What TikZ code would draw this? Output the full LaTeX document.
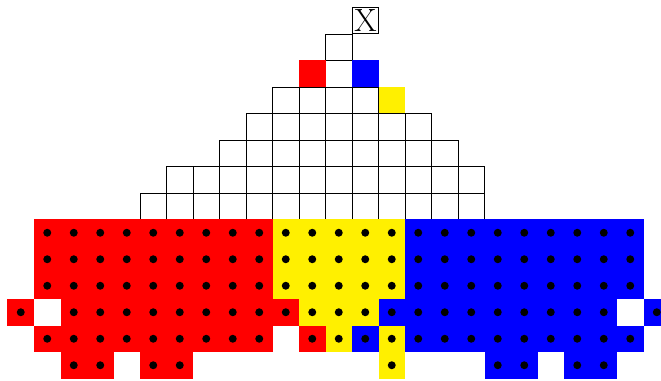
\documentclass[tikz,border=0pt]{standalone}
\usepackage{xcolor}
\usepackage{tikz}
\definecolor{plred}{RGB}{255,0,0}
\definecolor{plyellow}{RGB}{255,240,0}
\definecolor{plblue}{RGB}{0,0,255}

\begin{document}
\begin{tikzpicture}[
    x=0.5cm, y=0.5cm,
    cell/.style={draw=black, line width=0.5pt},
    peg/.style={fill=black},
    xbox/.style={
        draw=black,
        line width=0.5pt,
        anchor=south west,
        inner sep=1pt,
        minimum height=0.5cm,
        font=\LARGE
    }
]
\useasboundingbox (-0.283,0.283) rectangle (24.66,-14.057);

% empty board, row by row: first/last column/row
\foreach \a/\b/\r in {12/12/1, 12/12/2, 10/13/3, 9/15/4, 8/16/5, 6/17/6, 5/17/7}
    \foreach \c in {\a,...,\b}
        \draw[cell] (\c,-\r) rectangle ++(1,-1);

% coloured squares on the board
\fill[plred] (11,-2) rectangle ++(1,-1);
\fill[plblue] (13,-2) rectangle ++(1,-1);
\fill[plyellow] (14,-3) rectangle ++(1,-1);

\node[xbox] (target) at (13,-1) {X};

% the three armies
\foreach \a/\b/\r in {1/9/8, 1/9/9, 1/9/10, 0/0/11, 2/10/11, 1/9/12, 11/11/12, 2/3/13, 5/6/13} {
    \fill[plred] (\a,-\r) rectangle (\b+1,-\r-1);
    \foreach \c in {\a,...,\b}
        \fill[peg] (\c+0.5,-\r-0.5) circle (0.15);
}
\foreach \a/\b/\r in {10/14/8, 10/14/9, 10/14/10, 11/13/11, 12/12/12, 14/14/12, 14/14/13} {
    \fill[plyellow] (\a,-\r) rectangle (\b+1,-\r-1);
    \foreach \c in {\a,...,\b}
        \fill[peg] (\c+0.5,-\r-0.5) circle (0.15);
}
\foreach \a/\b/\r in {15/23/8, 15/23/9, 15/23/10, 14/22/11, 24/24/11, 13/13/12, 15/23/12, 18/19/13, 21/22/13} {
    \fill[plblue] (\a,-\r) rectangle (\b+1,-\r-1);
    \foreach \c in {\a,...,\b}
        \fill[peg] (\c+0.5,-\r-0.5) circle (0.15);
}
\end{tikzpicture}
\end{document}
